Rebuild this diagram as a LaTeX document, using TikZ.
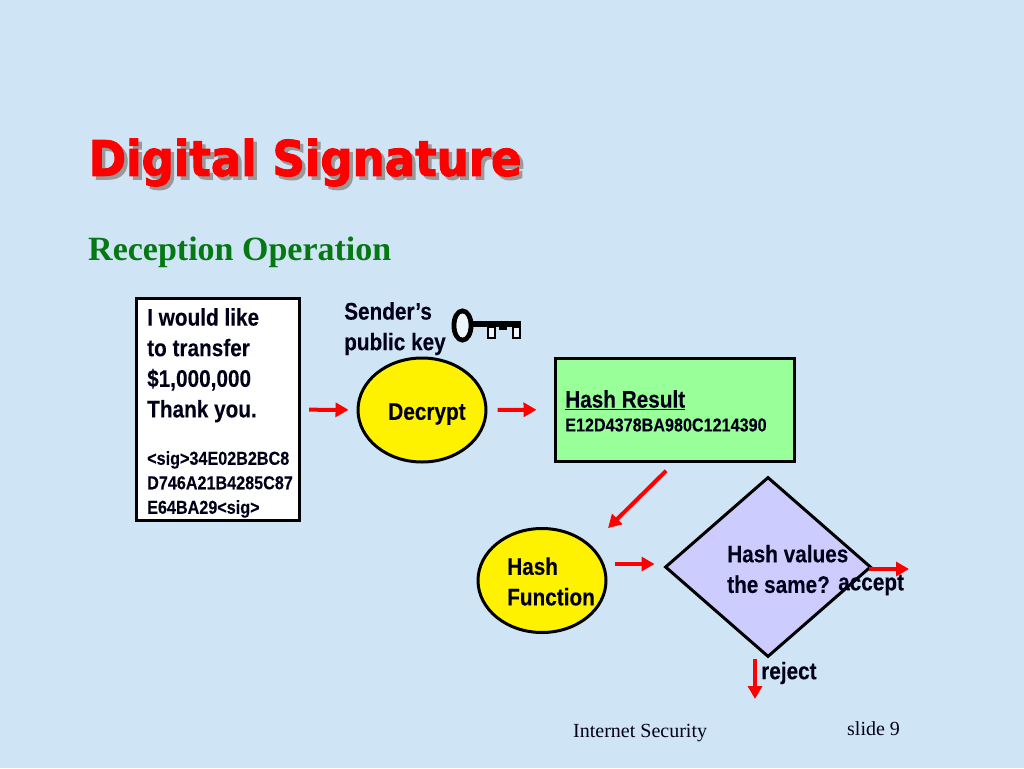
\documentclass[tikz,border=0pt]{standalone}
\usepackage{fontspec}
\setmainfont{Liberation Serif}
\newfontfamily\titlefont[FakeBold=2,FakeStretch=0.92]{DejaVu Sans Bold}
\newfontfamily\bodyfont[FakeBold=0.1,FakeStretch=0.865]{Liberation Sans Bold}
\usetikzlibrary{shapes.geometric,arrows.meta}
\definecolor{slidebg}{HTML}{CFE5F5}
\definecolor{inkdark}{HTML}{000018}

\begin{document}
\begin{tikzpicture}[x=1pt,y=-1pt]

\tikzstyle{oval}=[draw=black,fill=yellow,shape=ellipse,line width=3pt,inner sep=0pt,minimum width=128pt,minimum height=104pt];
\tikzstyle{bodytext}=[text=inkdark,inner sep=0pt,align=left,font=\bodyfont\fontsize{24}{30.6}\selectfont];
\tikzstyle{smalltext}=[text=inkdark,inner sep=0pt,align=left,font=\bodyfont\fontsize{18.7}{24.5}\selectfont];
\tikzstyle{flow}=[draw=red,line width=4pt,-{Triangle[length=13pt,width=14pt]}];

% Background of the slide
\fill[slidebg] (0,0) rectangle (1024,768);
\useasboundingbox (0,0) rectangle (1024,768);

% Draw the heading
\node[anchor=west,inner sep=0pt,text=black!40,font=\titlefont\fontsize{49}{52}\selectfont] (shadow) at (92,166) {Digital Signature};
\node[anchor=west,inner sep=0pt,text=red,font=\titlefont\fontsize{49}{52}\selectfont] (title) at (88.5,162.5) {Digital Signature};
\node[anchor=west,inner sep=0pt,text={rgb,255:red,5;green,120;blue,20},font=\bfseries\fontsize{34}{36}\selectfont] (subtitle) at (88,252.5) {Reception Operation};

% Draw the message box
\node[draw=black,fill=white,line width=3pt,minimum width=163pt,minimum height=222pt,inner sep=0pt] (msg) at (218,409.5) {};
\node[bodytext,anchor=north west] (msgtext) at (147,308) {I would like\\to transfer\\\$1,000,000\\Thank you.};
\node[smalltext,anchor=north west] (sigtext) at (147,451) {<sig>34E02B2BC8\\D746A21B4285C87\\E64BA29<sig>};

% Draw the decrypt step and the key
\node[oval] (decrypt) at (422,410) {};
\node[bodytext] (decrypttext) at (427,414) {Decrypt};
\node[bodytext,anchor=north west] (keytext) at (344,302) {Sender’s\\public key};
\draw[line width=5pt] (462.5,325.5) ellipse (8.5pt and 14.5pt);
\fill[white!60!slidebg] (462.5,325.5) ellipse (6pt and 12pt);
\fill[black] (472,321) rectangle (521,327);
\draw[line width=2.2pt,fill=white!60!slidebg] (488,327) rectangle (495,338);
\draw[line width=2.2pt,fill=white!60!slidebg] (513,327) rectangle (520,338);
\fill[black] (499,327) rectangle (507,330);

% Draw the hash result
\node[draw=black,fill={rgb,255:red,153;green,255;blue,153},line width=3pt,minimum width=239pt,minimum height=103pt,inner sep=0pt] (hresult) at (674.5,409.5) {};
\node[bodytext,anchor=west] (hresulttext) at (565,400) {\underline{Hash Result}};
\node[smalltext,anchor=west] (hvalue) at (565,425) {E12D4378BA980C1214390};

% Draw the hash function and the comparison
\node[oval] (hfunc) at (542,580.5) {};
\node[bodytext,anchor=west] (hfunctext) at (507,581.5) {Hash\\Function};
\node[draw=black,fill={rgb,255:red,204;green,204;blue,255},shape=diamond,aspect=1.144,line width=3pt,minimum width=206pt,minimum height=180pt,inner sep=0pt] (cmp) at (768,567) {};
\node[bodytext,anchor=west] (cmptext) at (727,569) {Hash values\\the same?};

% Links between the steps
\coordinate (hfout) at (606,564);
\coordinate (acceptend) at (909,569);
\coordinate (rejectend) at (755,699);
\draw[flow,shorten <=8pt,shorten >=8pt] (msg) -- (decrypt);
\draw[flow,shorten <=10pt,shorten >=17pt] (decrypt) -- (hresult);
\draw[flow,shorten <=11.7pt,shorten >=24pt] (hresult.south) -- (hfunc.36);
\draw[flow,shorten <=9pt,shorten >=9pt] (hfout) -- (hfout -| cmp.west);
\draw[flow,shorten <=-4pt] (cmp.east |- acceptend) -- (acceptend);
\draw[flow] ([xshift=-13pt]cmp.south) -- (rejectend);

% Outcome labels and footer
\node[bodytext,anchor=west] (accept) at (838,585) {accept};
\node[bodytext,anchor=west] (reject) at (761,673) {reject};
\node[anchor=west,inner sep=0pt,text=inkdark,font=\fontsize{20}{24}\selectfont] (footer) at (573,733) {Internet Security};
\node[anchor=west,inner sep=0pt,text=inkdark,font=\fontsize{20}{24}\selectfont] (slideno) at (847,729) {slide 9};

\end{tikzpicture}
\end{document}
